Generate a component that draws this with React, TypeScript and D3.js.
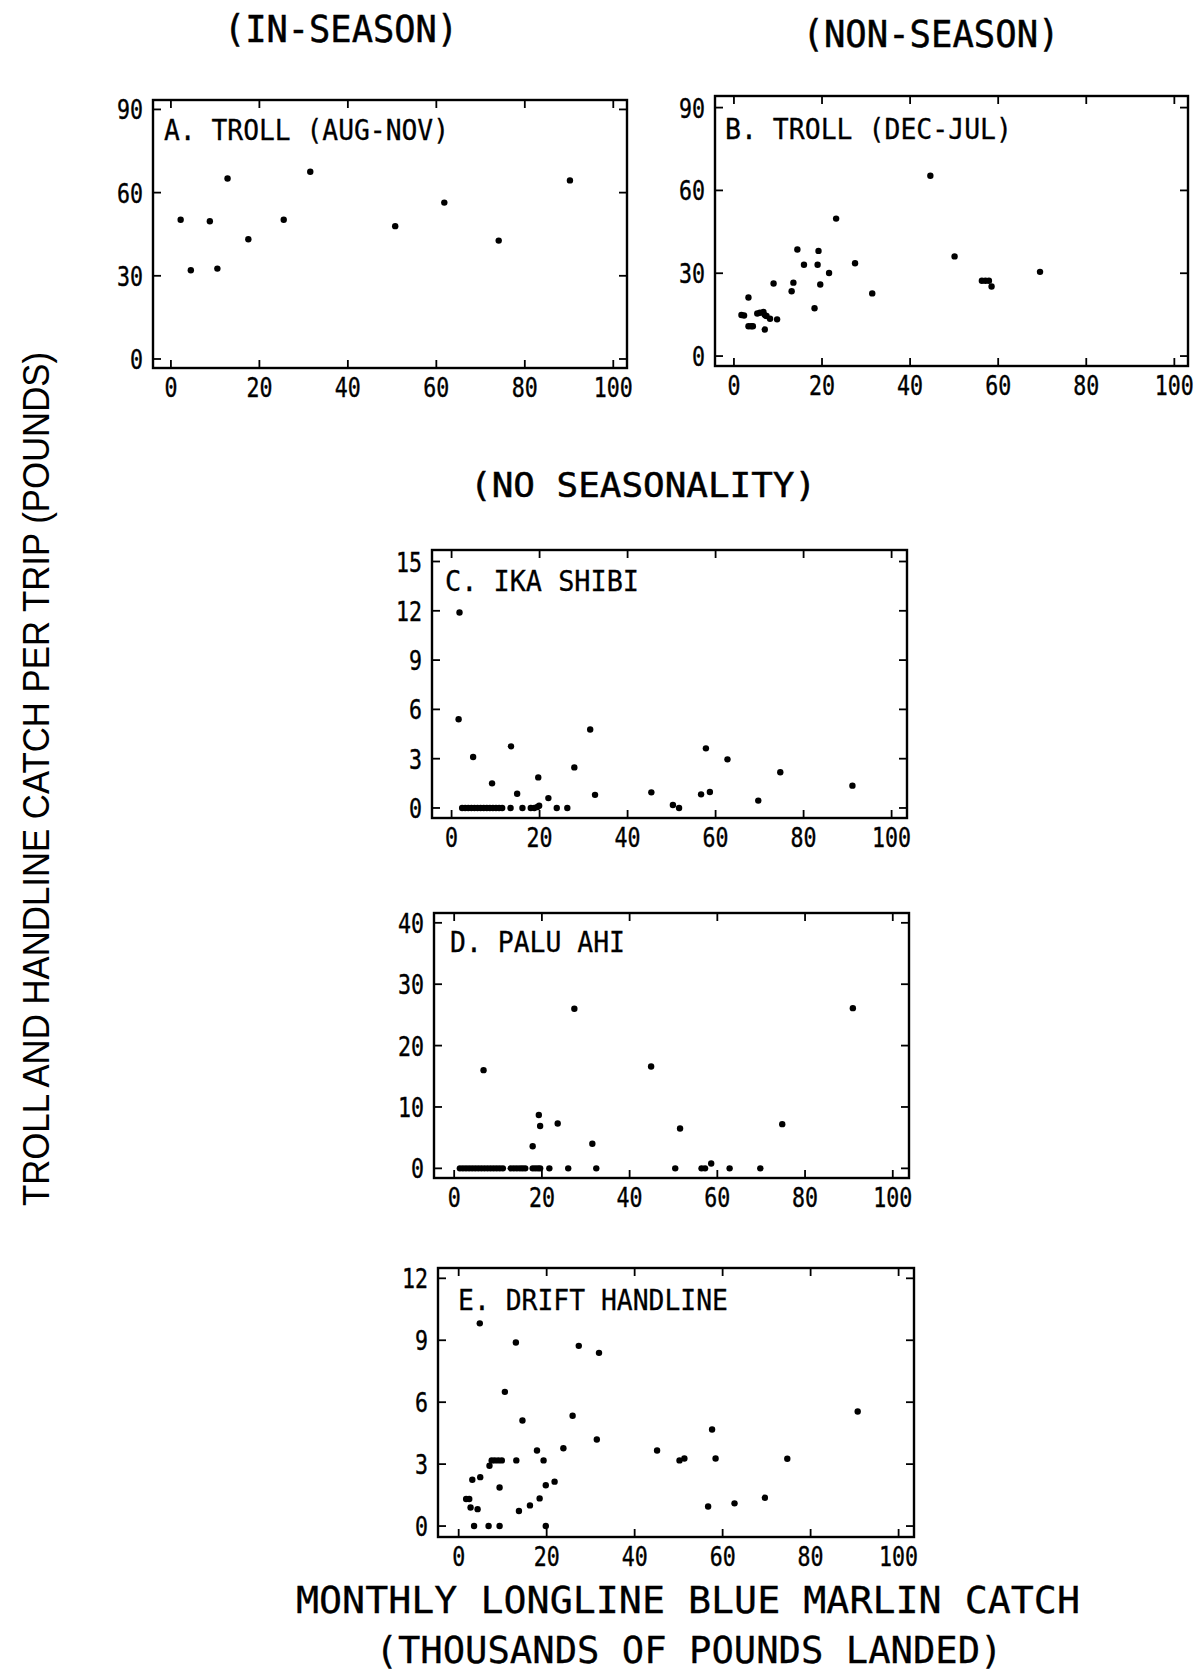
import React from "react";
import * as d3 from "d3";

type Pt = [number, number];

// ---------- data ----------
const xTickValues = [0, 20, 40, 60, 80, 100];

const trollInSeasonTicks = [0, 30, 60, 90];
const trollInSeason: Pt[] = [
  [2.2, 50.2], [4.5, 32.0], [8.8, 49.7], [10.5, 32.6], [12.8, 65.1], [17.5, 43.2],
  [25.5, 50.2], [31.5, 67.5], [50.7, 47.9], [61.8, 56.4], [74.1, 42.7], [90.2, 64.4],
];

const trollNonSeasonTicks = [0, 30, 60, 90];
const trollNonSeason: Pt[] = [
  [1.7, 14.9], [2.3, 14.7], [3.3, 21.2], [3.3, 10.8], [3.9, 10.8], [4.3, 10.8],
  [5.3, 15.4], [5.9, 15.7], [6.7, 16.0], [7.0, 14.8], [7.0, 9.6], [7.4, 14.5],
  [8.2, 13.5], [9.0, 26.3], [9.8, 13.3], [13.1, 23.5], [13.5, 26.6], [14.4, 38.6],
  [15.9, 33.1], [18.3, 17.3], [19.0, 33.1], [19.2, 38.1], [19.6, 25.9], [21.6, 30.1],
  [23.2, 49.8], [27.5, 33.6], [31.4, 22.7], [44.6, 65.3], [50.1, 36.1], [56.3, 27.3],
  [57.1, 27.3], [57.9, 27.3], [58.5, 25.2], [69.5, 30.5],
];

const ikaShibiTicks = [0, 3, 6, 9, 12, 15];
const ikaShibi: Pt[] = [
  [1.8, 11.9], [1.6, 5.4], [4.9, 3.1], [9.2, 1.5], [13.5, 3.75], [14.9, 0.87],
  [19.7, 1.86], [22.0, 0.6], [27.9, 2.47], [31.5, 4.78], [32.6, 0.8], [45.4, 0.95],
  [50.3, 0.18], [51.7, 0], [56.7, 0.83], [57.8, 3.63], [58.7, 0.97], [62.7, 2.96],
  [69.7, 0.45], [74.7, 2.17], [91.1, 1.36],
  [2.4, 0], [3.1, 0], [3.8, 0], [4.5, 0], [5.2, 0], [5.9, 0], [6.6, 0], [7.3, 0],
  [8.0, 0], [8.7, 0], [9.4, 0], [10.1, 0], [10.8, 0], [11.5, 0], [13.4, 0], [16.1, 0],
  [18.0, 0], [18.8, 0], [19.5, 0.06], [19.9, 0.14], [23.9, 0], [26.3, 0],
];

const paluAhiTicks = [0, 10, 20, 30, 40];
const paluAhi: Pt[] = [
  [6.7, 16.0], [17.9, 3.6], [19.3, 8.7], [19.6, 6.9], [23.6, 7.3], [27.4, 26.0],
  [31.5, 4.0], [44.9, 16.6], [51.5, 6.5], [58.6, 0.8], [74.8, 7.2], [90.9, 26.1],
  [1.3, 0], [2.0, 0], [2.7, 0], [3.4, 0], [4.1, 0], [4.8, 0], [5.5, 0], [6.2, 0],
  [6.9, 0], [7.6, 0], [8.3, 0], [9.0, 0], [9.7, 0], [10.4, 0], [11.1, 0], [12.9, 0],
  [13.6, 0], [14.3, 0], [15.0, 0], [15.6, 0], [16.2, 0], [17.9, 0], [18.5, 0], [19.1, 0],
  [19.6, 0], [21.7, 0], [26.0, 0], [32.4, 0], [50.4, 0], [56.4, 0], [57.2, 0], [62.8, 0],
  [69.8, 0],
];

const driftHandlineTicks = [0, 3, 6, 9, 12];
const driftHandline: Pt[] = [
  [1.7, 1.31], [2.4, 1.31], [2.7, 0.9], [3.1, 2.24], [3.5, 0], [4.3, 0.82], [4.8, 9.82],
  [4.9, 2.37], [6.8, 0], [7.0, 2.92], [7.5, 3.18], [8.2, 3.18], [9.0, 3.18], [9.3, 1.87],
  [9.3, 0], [9.8, 3.18], [10.5, 6.5], [13.0, 8.89], [13.1, 3.18], [13.7, 0.73],
  [14.5, 5.11], [16.2, 1.0], [17.8, 3.66], [18.4, 1.34], [19.3, 3.18], [19.8, 0],
  [19.8, 1.98], [21.8, 2.15], [23.8, 3.77], [25.9, 5.34], [27.3, 8.73], [31.4, 4.19],
  [31.9, 8.39], [45.1, 3.66], [50.2, 3.18], [51.3, 3.27], [56.7, 0.95], [57.6, 4.68],
  [58.4, 3.27], [62.7, 1.1], [69.6, 1.37], [74.7, 3.26], [90.7, 5.55],
];

const headerLabels = ["(IN-SEASON)", "(NON-SEASON)", "(NO SEASONALITY)"];
const yTitle = "TROLL AND HANDLINE CATCH PER TRIP (POUNDS)";
const xTitleLines = ["MONTHLY LONGLINE BLUE MARLIN CATCH", "(THOUSANDS OF POUNDS LANDED)"];

// ---------- layout ----------
const MONO = "'DejaVu Sans Mono', 'Liberation Mono', monospace";
const SANS = "'Liberation Sans', Arial, Helvetica, sans-serif";

interface PanelSpec {
  label: string;
  data: Pt[];
  yTicks: number[];
  box: { x: number; y: number; w: number; h: number };
  xDomain: [number, number];
  yDomain: [number, number];
  labelDx: number;
  labelDy: number;
  labelLen: number;
}

const panels: PanelSpec[] = [
  {
    label: "A. TROLL (AUG-NOV)", data: trollInSeason, yTicks: trollInSeasonTicks,
    box: { x: 153, y: 100, w: 474, h: 268 }, xDomain: [-4.05, 103.1], yDomain: [-3.25, 93.4],
    labelDx: 11, labelDy: 40, labelLen: 285,
  },
  {
    label: "B. TROLL (DEC-JUL)", data: trollNonSeason, yTicks: trollNonSeasonTicks,
    box: { x: 715, y: 96, w: 473, h: 270 }, xDomain: [-4.3, 103.1], yDomain: [-3.6, 94.2],
    labelDx: 10, labelDy: 43, labelLen: 287,
  },
  {
    label: "C. IKA SHIBI", data: ikaShibi, yTicks: ikaShibiTicks,
    box: { x: 432, y: 550, w: 475, h: 268 }, xDomain: [-4.45, 103.5], yDomain: [-0.61, 15.7],
    labelDx: 13, labelDy: 41, labelLen: 194,
  },
  {
    label: "D. PALU AHI", data: paluAhi, yTicks: paluAhiTicks,
    box: { x: 434, y: 913, w: 475, h: 265 }, xDomain: [-4.6, 103.7], yDomain: [-1.57, 41.6],
    labelDx: 16, labelDy: 39, labelLen: 175,
  },
  {
    label: "E. DRIFT HANDLINE", data: driftHandline, yTicks: driftHandlineTicks,
    box: { x: 438, y: 1268, w: 476, h: 269 }, xDomain: [-4.7, 103.5], yDomain: [-0.53, 12.5],
    labelDx: 20, labelDy: 42, labelLen: 270,
  },
];

const TICK = 8;

function Panel({ p }: { p: PanelSpec }) {
  const { box } = p;
  const x = d3.scaleLinear().domain(p.xDomain).range([box.x, box.x + box.w]);
  const y = d3.scaleLinear().domain(p.yDomain).range([box.y + box.h, box.y]);
  const bottom = box.y + box.h;
  const right = box.x + box.w;
  return (
    <g>
      {p.data.map((d, i) => (
        <circle key={i} cx={x(d[0])} cy={y(d[1])} r={3.2} fill="#000" />
      ))}
      <rect x={box.x} y={box.y} width={box.w} height={box.h} fill="none" stroke="#000" strokeWidth={2.4} />
      {xTickValues.map((t) => (
        <g key={"x" + t}>
          <line x1={x(t)} x2={x(t)} y1={bottom} y2={bottom - TICK} stroke="#000" strokeWidth={1.8} />
          <line x1={x(t)} x2={x(t)} y1={box.y} y2={box.y + TICK} stroke="#000" strokeWidth={1.8} />
          <text
            transform={`translate(${x(t)},${bottom + 29}) scale(0.8,1)`}
            textAnchor="middle" fontFamily={MONO} fontSize={27} fill="#000" stroke="#000" strokeWidth={0.4}
          >
            {t}
          </text>
        </g>
      ))}
      {p.yTicks.map((t) => (
        <g key={"y" + t}>
          <line x1={box.x} x2={box.x + TICK} y1={y(t)} y2={y(t)} stroke="#000" strokeWidth={1.8} />
          <line x1={right} x2={right - TICK} y1={y(t)} y2={y(t)} stroke="#000" strokeWidth={1.8} />
          <text
            transform={`translate(${box.x - 10},${y(t) + 10}) scale(0.8,1)`}
            textAnchor="end" fontFamily={MONO} fontSize={27} fill="#000" stroke="#000" strokeWidth={0.4}
          >
            {t}
          </text>
        </g>
      ))}
      <text
        x={box.x + p.labelDx} y={box.y + p.labelDy}
        fontFamily={MONO} fontSize={27.5} fill="#000" stroke="#000" strokeWidth={0.3}
        textLength={p.labelLen} lengthAdjust="spacingAndGlyphs" style={{ whiteSpace: "pre" }}
      >
        {p.label}
      </text>
    </g>
  );
}

export default function App() {
  return (
    <svg
      width={1202} height={1674} viewBox="0 0 1202 1674"
      style={{ position: "absolute", left: 0, top: 0, background: "#fff" }}
    >
      <rect x={0} y={0} width={1202} height={1674} fill="#fff" />
      <text x={341} y={42} textAnchor="middle" fontFamily={MONO} fontSize={37} fill="#000"
        stroke="#000" strokeWidth={0.5} textLength={234} lengthAdjust="spacingAndGlyphs">
        {headerLabels[0]}
      </text>
      <text x={931} y={47} textAnchor="middle" fontFamily={MONO} fontSize={37} fill="#000"
        stroke="#000" strokeWidth={0.5} textLength={257} lengthAdjust="spacingAndGlyphs">
        {headerLabels[1]}
      </text>
      <text x={643} y={497} textAnchor="middle" fontFamily={MONO} fontSize={34} fill="#000"
        stroke="#000" strokeWidth={0.5} textLength={346} lengthAdjust="spacingAndGlyphs">
        {headerLabels[2]}
      </text>
      <text transform="translate(49,779) rotate(-90)" textAnchor="middle" fontFamily={SANS}
        fontSize={37} fill="#000" textLength={854} lengthAdjust="spacingAndGlyphs">
        {yTitle}
      </text>
      <text x={688} y={1613} textAnchor="middle" fontFamily={MONO} fontSize={38} fill="#000"
        stroke="#000" strokeWidth={0.3} textLength={784} lengthAdjust="spacingAndGlyphs">
        {xTitleLines[0]}
      </text>
      <text x={689} y={1663} textAnchor="middle" fontFamily={MONO} fontSize={38} fill="#000"
        stroke="#000" strokeWidth={0.3} textLength={627} lengthAdjust="spacingAndGlyphs">
        {xTitleLines[1]}
      </text>
      {panels.map((p) => (
        <Panel key={p.label} p={p} />
      ))}
    </svg>
  );
}
